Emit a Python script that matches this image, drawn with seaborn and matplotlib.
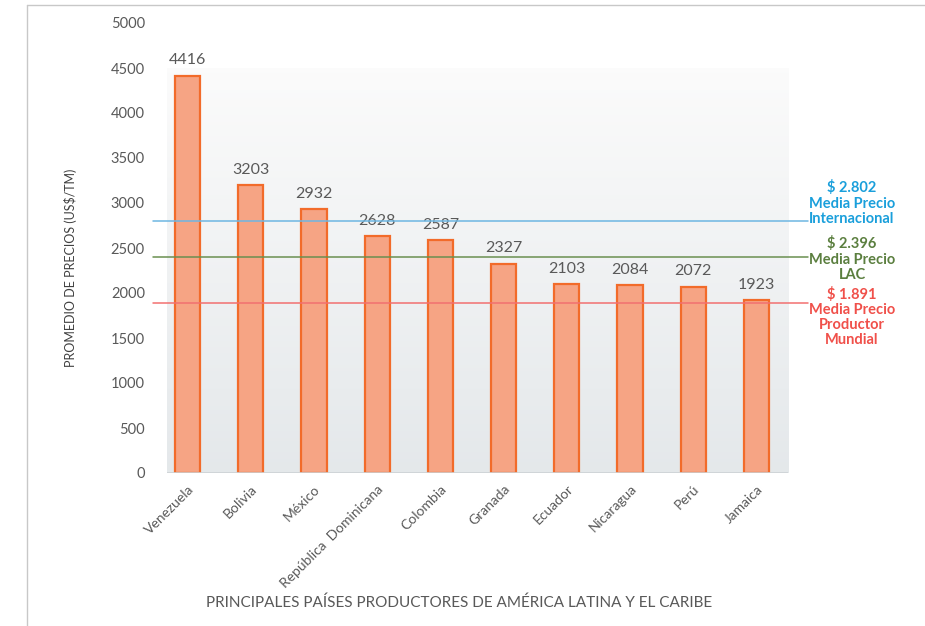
import numpy as np
import seaborn as sns
import matplotlib.pyplot as plt
from matplotlib.lines import Line2D
import matplotlib.transforms as mtransforms

paises = ['Venezuela', 'Bolivia', 'México', 'República  Dominicana', 'Colombia',
          'Granada', 'Ecuador', 'Nicaragua', 'Perú', 'Jamaica']
precios = [4416, 3203, 2932, 2628, 2587, 2327, 2103, 2084, 2072, 1923]

medias = [2802, 2396, 1891]
medias_txt = ['$ 2.802\nMedia Precio\nInternacional',
              '$ 2.396\nMedia Precio\nLAC',
              '$ 1.891\nMedia Precio\nProductor\nMundial']
medias_col = ['#1A9FDB', '#5B7F3F', '#F0504A']
lineas_col = ['#6DB6E2', '#6A8F50', '#F27070']

sns.set_style('white')
plt.rcParams['font.family'] = ['Lato', 'DejaVu Sans']

W, H = 925, 626
fig = plt.figure(figsize=(W / 100, H / 100), dpi=100)
ax = fig.add_axes([156 / W, 1 - 473 / H, 632 / W, 450 / H])

# degradado de fondo
grad = np.linspace(0, 1, 256).reshape(-1, 1)
top = np.array([0.985, 0.985, 0.985])
bot = np.array([0.895, 0.91, 0.92])
img = top + (bot - top) * grad[:, :, None]
ax.imshow(img, extent=[-0.33, 9.5, 0, 4500], aspect='auto', origin='upper', zorder=0)

sns.barplot(x=paises, y=precios, color='#F6A484', edgecolor='#F26B2A', linewidth=1.6,
            width=0.4, saturation=1, ax=ax, zorder=2)

for i, v in enumerate(precios):
    ax.text(i, v + 90, str(v), ha='center', va='bottom', fontsize=11.5, color='#595959')

ax.set_xlim(-0.5, 9.5)
ax.set_ylim(0, 5000)
ax.set_yticks(range(0, 5001, 500))
ax.hlines(0, -0.33, 9.5, color='#CDD2D5', linewidth=1.2, zorder=3)
for s in ax.spines.values():
    s.set_visible(False)
ax.tick_params(axis='both', length=0, colors='#595959', labelsize=10.5)
ax.tick_params(axis='y', pad=8)
ax.tick_params(axis='x', pad=7)
plt.setp(ax.get_xticklabels(), rotation=45, ha='right', rotation_mode='anchor', fontsize=10)
ax.set_xlabel('')
ax.set_ylabel('PROMEDIO DE PRECIOS (US$/TM)', fontsize=9, color='#404040')
ax.yaxis.set_label_coords(-0.125, 0.456)

# lineas de medias
trans = mtransforms.blended_transform_factory(ax.transAxes, ax.transData)
for m, c in zip(medias, lineas_col):
    ax.plot([-0.005, 1.032], [m, m], transform=trans, color=c, linewidth=1.1,
            clip_on=False, zorder=4)

# textos de las medias
fig.text(852 / W, 1 - 203 / H, medias_txt[0], ha='center', va='center', color=medias_col[0],
         fontsize=10.5, fontweight='bold', linespacing=1.1)
fig.text(852 / W, 1 - 259 / H, medias_txt[1], ha='center', va='center', color=medias_col[1],
         fontsize=10.5, fontweight='bold', linespacing=1.1)
fig.text(852 / W, 1 - 317 / H, medias_txt[2], ha='center', va='center', color=medias_col[2],
         fontsize=10.5, fontweight='bold', linespacing=1.1)

fig.text(459 / W, 1 - 603 / H, 'PRINCIPALES PAÍSES PRODUCTORES DE AMÉRICA LATINA Y EL CARIBE',
         ha='center', va='center', fontsize=11, color='#595959')

# marco
fig.add_artist(Line2D([27 / W, 27 / W], [0, 1 - 5 / H], color='#C8C8C8', linewidth=1))
fig.add_artist(Line2D([27 / W, 1], [1 - 5 / H, 1 - 5 / H], color='#C8C8C8', linewidth=1))

fig.savefig('out.png', dpi=100)
